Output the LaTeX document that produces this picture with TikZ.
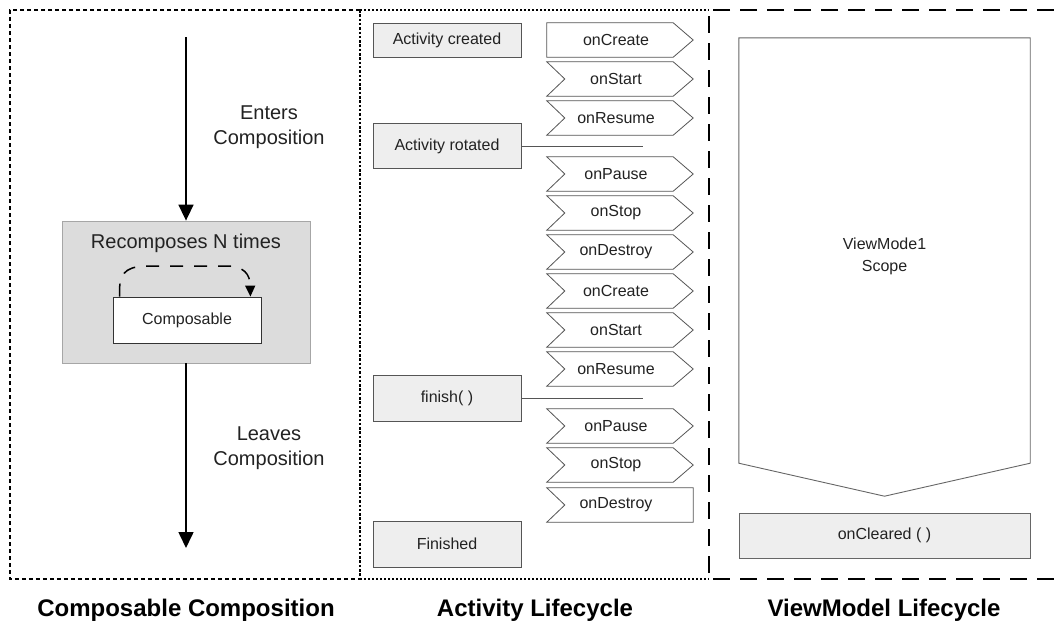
\documentclass[tikz,border=0pt]{standalone}
\usepackage{fontspec}
\setmainfont{Liberation Sans}
\usetikzlibrary{arrows.meta,calc}

\definecolor{inkgray}{HTML}{222222}
\definecolor{boxline}{HTML}{555555}
\definecolor{boxfill}{HTML}{EEEEEE}
\definecolor{panelfill}{HTML}{DCDCDC}

\tikzset{
  bodytext/.style={text=inkgray, font=\fontsize{16}{19}\selectfont, align=center},
  bigtext/.style={text=inkgray, font=\fontsize{20}{25}\selectfont, align=center},
  paneltitle/.style={text=black, font=\fontsize{24}{28}\bfseries\selectfont, anchor=base},
  eventbox/.style={bodytext, draw=boxline, fill=boxfill, line width=0.8pt,
    minimum width=148pt, inner sep=0pt},
  stepnode/.style={bodytext, minimum width=146pt, minimum height=34pt, inner sep=0pt},
  stepline/.style={draw=boxline, fill=white, line width=0.8pt, line join=miter},
  flowarrow/.style={line width=1.6pt, -{Triangle[width=15pt,length=16pt]}},
  leftframe/.style={line width=1.6pt, dash pattern=on 4pt off 3pt},
  midframe/.style={line width=1.8pt, dash pattern=on 2pt off 2pt},
  splitline/.style={line width=2.6pt, dash pattern=on 2.5pt off 1.8pt},
  rightframe/.style={line width=1.8pt, dash pattern=on 17pt off 10pt},
}

% one lifecycle callback: name, centre y, text, notch depth (left), tip depth (right)
\newcommand\lifestep[5]{%
  \node[stepnode] (#1) at (620,#2) {};
  \filldraw[stepline] (#1.north west) -- ([xshift=-#5pt]#1.north east) -- (#1.east)
    -- ([xshift=-#5pt]#1.south east) -- (#1.south west) -- ([xshift=#4pt]#1.west) -- cycle;
  \node[bodytext] at ([xshift=-4pt]#1.center) {#3};
}

\begin{document}
\begin{tikzpicture}[x=1pt,y=-1pt]
\useasboundingbox (0,0) rectangle (1054,629);

% ---------- panel frames ----------
\draw[leftframe] (360,10) -- (10,10) -- (10,579) -- (360,579);
\draw[midframe] (360,10) -- (709,10);
\draw[midframe] (360,579) -- (709,579);
\draw[splitline] (360,10) -- (360,579);
\draw[rightframe] (1054,10) -- (709,10) -- (709,579) -- (1054,579);

% ---------- composable composition ----------
\coordinate (enter) at (186,37);
\coordinate (leave) at (186,548);
\node[fill=panelfill, draw=black!35, line width=0.8pt, minimum width=248pt,
      minimum height=142pt, inner sep=0pt] (recomp) at (186,292) {};
\node[bigtext] (recomptext) at (186,243) {Recomposes N times};
\node[bodytext, draw=black!80, fill=white, line width=0.8pt, minimum width=148pt,
      minimum height=46pt, inner sep=0pt] (comp) at (187,320) {Composable};
\draw[flowarrow] (enter) -- (recomp.north);
\draw[flowarrow] (recomp.south) -- (leave);
\node[bigtext] (enterlbl) at (269,127) {Enters\\Composition};
\node[bigtext] (leavelbl) at (269,448) {Leaves\\Composition};

\coordinate (loopa) at ($(comp.north west)+(7,0)$);
\coordinate (loopb) at ($(comp.north east)+(-11,0)$);
\draw[line width=1.5pt, dash pattern=on 13pt off 11pt,
      -{Triangle[width=10pt,length=11pt]}]
  (loopa) -- ++(0,-8) .. controls (120,270) and (130,266) .. (150,266)
  -- (226,266) .. controls (244,266) and (250,274) .. (loopb);

% ---------- activity lifecycle ----------
\node[eventbox, minimum height=34pt] (created) at (447,40) {Activity created};
\node[eventbox, minimum height=45pt] (rotated) at (447,146) {Activity rotated};
\node[eventbox, minimum height=46pt] (finish) at (447,398) {finish( )};
\node[eventbox, minimum height=46pt] (finished) at (447,544) {Finished};

\lifestep{s1}{40}{onCreate}{0}{20}
\lifestep{s2}{79}{onStart}{18}{20}
\lifestep{s3}{118}{onResume}{18}{20}
\lifestep{s4}{174}{onPause}{18}{20}
\lifestep{s5}{213}{onStop}{18}{20}
\lifestep{s6}{252}{onDestroy}{18}{20}
\lifestep{s7}{291}{onCreate}{18}{20}
\lifestep{s8}{330}{onStart}{18}{20}
\lifestep{s9}{369}{onResume}{18}{20}
\lifestep{s10}{426}{onPause}{18}{20}
\lifestep{s11}{465}{onStop}{18}{20}
\lifestep{s12}{505}{onDestroy}{18}{0}

\coordinate (rotend) at (643,146);
\coordinate (finend) at (643,398);
\draw[draw=boxline, line width=0.8pt] (rotated.east) -- (rotend);
\draw[draw=boxline, line width=0.8pt] (finish.east) -- (finend);

% ---------- viewmodel lifecycle ----------
\node[minimum width=291pt, minimum height=425pt, inner sep=0pt]
  (scope) at (884.5,250.5) {};
\draw[draw=black!60, line width=0.9pt]
  (scope.north west) -- (scope.north east) -- (scope.south east)
  -- ($(scope.south)+(0,33)$) -- (scope.south west) -- cycle;
\node[bodytext, font=\fontsize{16}{22}\selectfont] (scopetext) at (884.5,256)
  {ViewMode1\\Scope};
\node[eventbox, minimum width=291pt, minimum height=45pt, draw=black!60]
  (cleared) at (884.5,535.5) {onCleared ( )};

% ---------- panel titles ----------
\node[paneltitle] (t1) at (186,616) {Composable Composition};
\node[paneltitle] (t2) at (535,616) {Activity Lifecycle};
\node[paneltitle] (t3) at (884,616) {ViewModel Lifecycle};
\end{tikzpicture}
\end{document}
